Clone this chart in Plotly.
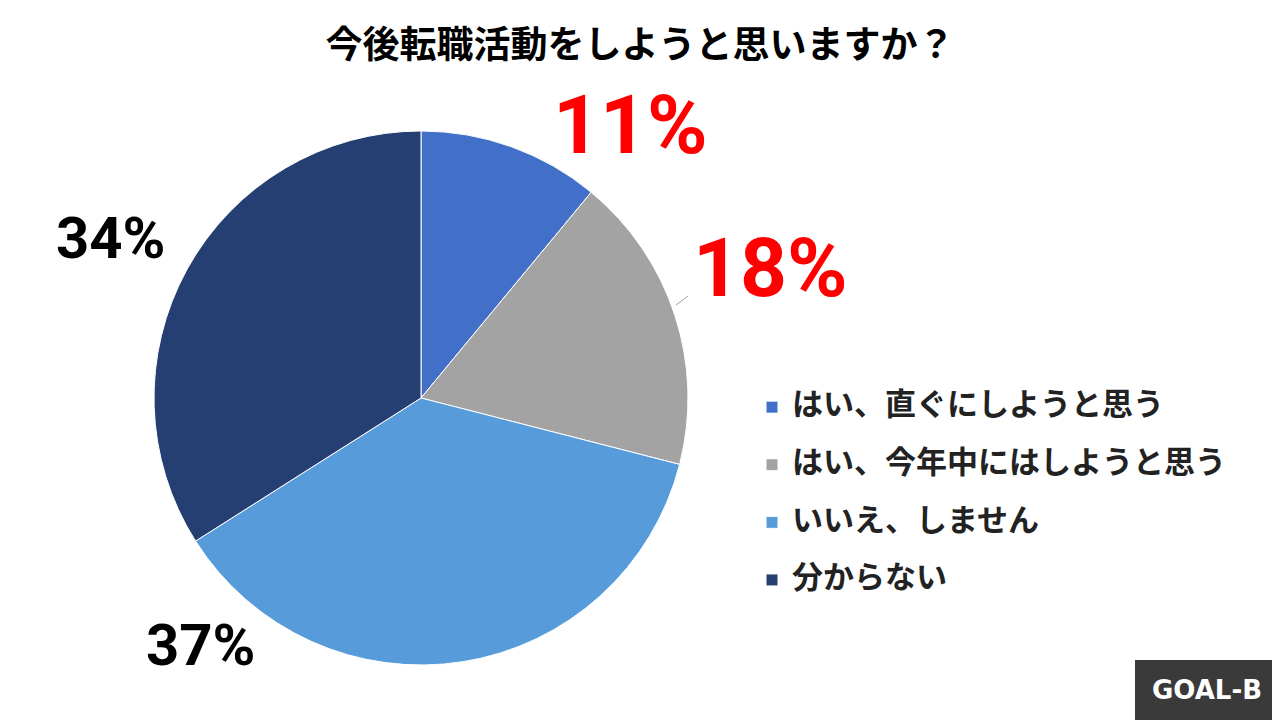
import plotly.graph_objects as go

title = "今後転職活動をしようと思いますか？"
labels = ["はい、直ぐにしようと思う", "はい、今年中にはしようと思う", "いいえ、しません", "分からない"]
values = [11, 18, 37, 34]
colors = ["#4270C8", "#A3A3A3", "#589BDA", "#263F73"]

FONT = "Noto Sans CJK JP"
W, H = 1280, 720
OX, OY = 8, 8  # page offset compensation

def px(x, y):
    return (x - OX) / W, 1 - (y - OY) / H

# larger first line + empty second line gives the wide spacing between entries
legend_labels = [f"<span style='font-size:31px'>{l}</span><br> " for l in labels]

fig = go.Figure(go.Pie(
    labels=legend_labels, values=values, sort=False, direction="clockwise", rotation=0,
    marker=dict(colors=colors, line=dict(color="white", width=1)),
    textinfo="none", hoverinfo="percent",
    domain=dict(x=[px(154, 0)[0], px(688, 0)[0]], y=[px(0, 665)[1], px(0, 131)[1]]),
))

# percentage labels (position, size, colour per slice)
label_pos = [(630, 125, 82, "#FF0000"), (770, 268, 82, "#FF0000"),
             (200, 645, 58, "#000000"), (110, 238, 58, "#000000")]
for v, (x, y, s, c) in zip(values, label_pos):
    ax, ay = px(x, y)
    fig.add_annotation(x=ax, y=ay, xref="paper", yref="paper",
                       xanchor="center", yanchor="middle",
                       text=f"<b>{v}%</b>", showarrow=False,
                       font=dict(family="Roboto", size=s, color=c))

x0, y0 = px(676, 305)
x1, y1 = px(688, 296)
fig.add_shape(type="line", xref="paper", yref="paper", x0=x0, y0=y0, x1=x1, y1=y1,
              line=dict(color="#A0A0A0", width=1))

tx, ty = px(640, 45)
gx, gy = px(752, 387)
fig.update_layout(
    width=W, height=H, margin=dict(l=0, r=0, t=0, b=0),
    paper_bgcolor="white", plot_bgcolor="white",
    title=dict(text=f"<b>{title}</b>", x=tx, y=ty, xanchor="center", yanchor="middle",
               font=dict(family=FONT, size=37, color="#000000")),
    legend=dict(x=gx, y=gy, xanchor="left", yanchor="top", valign="top",
                bgcolor="rgba(0,0,0,0)",
                font=dict(family=FONT, size=21, color="#222222", weight="bold"),
                itemwidth=30),
)

# logo (drawn above the legend box)
fig.add_shape(type="rect", xref="paper", yref="paper", layer="above",
              x0=px(1135, 0)[0], x1=1.0, y0=0, y1=px(0, 660)[1],
              fillcolor="#3A3A3A", line_width=0)
lx, ly = px(1207, 690)
fig.add_annotation(x=lx, y=ly, xref="paper", yref="paper",
                   xanchor="center", yanchor="middle",
                   text="<b>GOAL-B</b>", showarrow=False,
                   font=dict(family="DejaVu Sans", size=26, color="white"))

fig.write_html("out.html")
